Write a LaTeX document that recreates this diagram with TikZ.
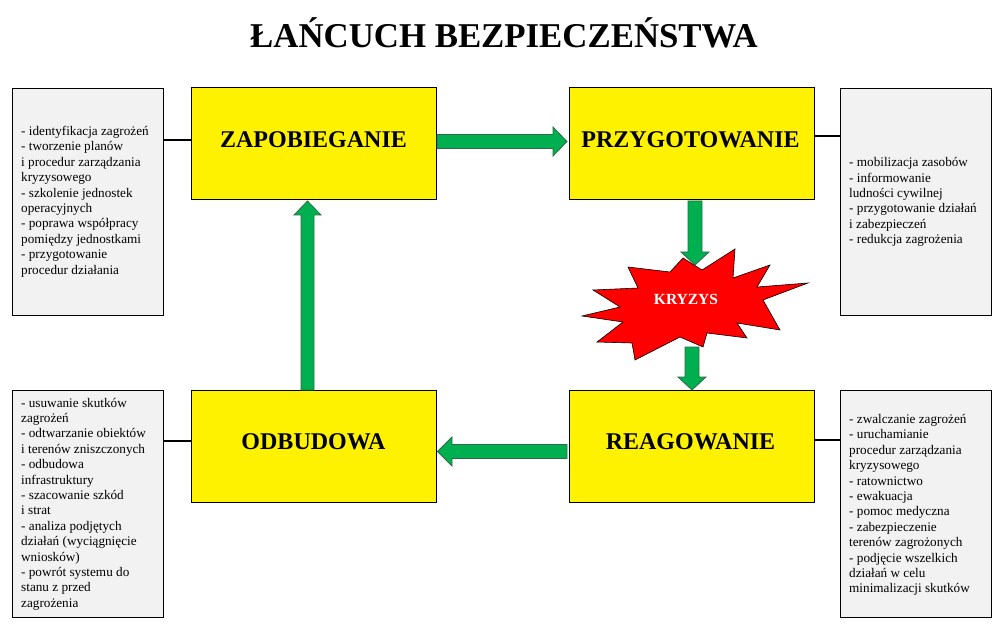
\documentclass[tikz,border=0pt]{standalone}
\usepackage{fontspec}
\setmainfont{Liberation Serif}
\usetikzlibrary{calc}
\definecolor{arrowgreen}{HTML}{00B050}
\definecolor{arrowedge}{HTML}{2E6B45}
\definecolor{boxgray}{HTML}{F2F2F2}
\begin{document}
\begin{tikzpicture}[x=1pt,y=-1pt,
  ybox/.style={draw=black, line width=1pt, fill=yellow, minimum width=245pt, minimum height=112pt, inner sep=0pt, font=\fontsize{24}{28}\selectfont\bfseries},
  gbox/.style={draw=black, line width=0.8pt, fill=boxgray, minimum width=151pt, minimum height=227pt, inner sep=0pt},
  gtext/.style={align=left, inner sep=0pt, font=\fontsize{13.2}{15.4}\selectfont, anchor=west},
  conn/.style={line width=2.6pt, black},
  barrow/.style={fill=arrowgreen, draw=arrowedge, line width=0.8pt, line join=miter},
  lbl/.style={font=\fontsize{24}{28}\selectfont\bfseries},
]
\useasboundingbox (0,0) rectangle (1006,628);
\fill[white] (0,0) rectangle (1006,628);

% title
\node[font=\fontsize{34.8}{40}\selectfont\bfseries] (title) at (504,33) {ŁAŃCUCH BEZPIECZEŃSTWA};

% yellow boxes
\node[ybox] (zap) at (313.5,144) {};
\node[lbl] (zapt) at (313.5,140) {ZAPOBIEGANIE};
\node[ybox] (prz) at (691.5,144) {};
\node[lbl] (przt) at (690.5,140) {PRZYGOTOWANIE};
\node[ybox] (odb) at (313.5,446) {};
\node[lbl] (odbt) at (313.5,442) {ODBUDOWA};
\node[ybox] (rea) at (691.5,446) {};
\node[lbl] (reat) at (690.5,442) {REAGOWANIE};

% gray boxes
\node[gbox] (g1) at (87.5,201.5) {};
\node[gtext] (g1t) at (21,201.5) {- identyfikacja zagrożeń\\- tworzenie planów\\i procedur zarządzania\\kryzysowego\\- szkolenie jednostek\\operacyjnych\\- poprawa współpracy\\pomiędzy jednostkami\\- przygotowanie\\procedur działania};
\node[gbox] (g2) at (916,201.5) {};
\node[gtext] (g2t) at (849,202) {- mobilizacja zasobów\\- informowanie\\ludności cywilnej\\- przygotowanie działań\\i zabezpieczeń\\- redukcja zagrożenia};
\node[gbox] (g3) at (87.5,503.5) {};
\node[gtext] (g3t) at (21,504) {- usuwanie skutków\\zagrożeń\\- odtwarzanie obiektów\\i terenów zniszczonych\\- odbudowa\\infrastruktury\\- szacowanie szkód\\i strat\\- analiza podjętych\\działań (wyciągnięcie\\wniosków)\\- powrót systemu do\\stanu z przed\\zagrożenia};
\node[gbox] (g4) at (916,503.5) {};
\node[gtext] (g4t) at (849,505) {- zwalczanie zagrożeń\\- uruchamianie\\procedur zarządzania\\kryzysowego\\- ratownictwo\\- ewakuacja\\- pomoc medyczna\\- zabezpieczenie\\terenów zagrożonych\\- podjęcie wszelkich\\działań w celu\\minimalizacji skutków};

% connectors
\draw[conn] (g1.east |- 0,140) -- (zap.west |- 0,140);
\draw[conn] (prz.east |- 0,136) -- (g2.west |- 0,136);
\draw[conn] (g3.east |- 0,441) -- (odb.west |- 0,441);
\draw[conn] (rea.east |- 0,440) -- (g4.west |- 0,440);

% block arrows
% right: zap -> prz
\draw[barrow] (437,134.5) -- (553,134.5) -- (553,127) -- (567,141.5) -- (553,156) -- (553,148.5) -- (437,148.5) -- cycle;
% left: rea -> odb
\draw[barrow] (567,444.5) -- (452,444.5) -- (452,437) -- (437.5,451.5) -- (452,466) -- (452,458.5) -- (567,458.5) -- cycle;
% up: odb -> zap
\draw[barrow] (301,390) -- (301,215) -- (294,215) -- (307.5,201) -- (321,215) -- (314,215) -- (314,390) -- cycle;

% starburst
\draw[fill=red, draw=black, line width=0.6pt, line join=miter]
  (735,249) -- (733,278) -- (770,265) -- (757,287) -- (808,283) -- (763,300)
  -- (780,330) -- (737,323) -- (747,338) -- (707,333) -- (703,347) -- (680,337)
  -- (635,360) -- (632,343) -- (597,342) -- (623,322) -- (582,316) -- (620,307)
  -- (593,290) -- (638,288) -- (628,267) -- (670,272) -- (683,258) -- (702,270) -- cycle;
\node[text=white, font=\fontsize{15.5}{18}\selectfont\bfseries] (kry) at (686,299) {KRYZYS};

% down arrows
\draw[barrow] (688,201) -- (688,252) -- (681,252) -- (695,265) -- (709,252) -- (702,252) -- (702,201) -- cycle;
\draw[barrow] (685,347) -- (685,377) -- (678,377) -- (692,390) -- (706,377) -- (699,377) -- (699,347) -- cycle;
\end{tikzpicture}
\end{document}
